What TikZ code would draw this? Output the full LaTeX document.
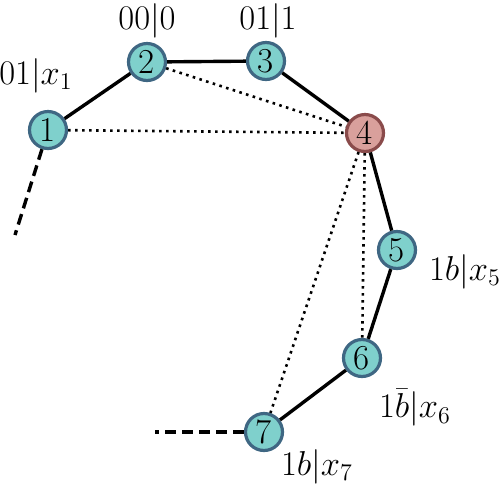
\documentclass[tikz,border=0pt]{standalone}
\usepackage{amsmath}
\begin{document}
\begin{tikzpicture}[x=0.5pt,y=-0.5pt,
  vtx/.style={circle,draw=vborder,fill=vfill,line width=1.6pt,minimum size=18.5pt,inner sep=0pt,font=\fontsize{17.5}{19}\selectfont},
  hot/.style={vtx,draw=hborder,fill=hfill},
  edge/.style={line width=1.7pt,black},
  dots/.style={line width=1.3pt,dash pattern=on 1.3pt off 2.2pt,black},
  dsh/.style={line width=1.7pt,dash pattern=on 5.5pt off 3pt,black},
  lab/.style={font=\fontsize{18.5}{20}\selectfont,inner sep=0pt}]
\definecolor{vfill}{HTML}{7FD0CC}
\definecolor{vborder}{HTML}{3F6783}
\definecolor{hfill}{HTML}{D9A09C}
\definecolor{hborder}{HTML}{8A4B4B}
\useasboundingbox (0,0) rectangle (499,500);
\coordinate (e1) at (15,235);
\coordinate (e7) at (155,432);
\node[vtx] (n1) at (48,130) {1};
\node[vtx] (n2) at (147,62) {2};
\node[vtx] (n3) at (266,61) {3};
\node[hot] (n4) at (365,133) {4};
\node[vtx] (n5) at (397,250) {5};
\node[vtx] (n6) at (362,358) {6};
\node[vtx] (n7) at (264,432) {7};
\draw[dots] (n1) -- (n4);
\draw[dots] (n2) -- (n4);
\draw[dots] (n4) -- (n6);
\draw[dots] (n4) -- (n7);
\draw[edge] (n1) -- (n2);
\draw[edge] (n2) -- (n3);
\draw[edge] (n3) -- (n4);
\draw[edge] (n4) -- (n5);
\draw[edge] (n5) -- (n6);
\draw[edge] (n6) -- (n7);
\draw[dsh] (n1) -- (e1);
\draw[dsh] (n7) -- (e7);
\node[lab] (l1) at (36,76) {$01|x_1$};
\node[lab] (l2) at (147,21) {$00|0$};
\node[lab] (l3) at (268,21) {$01|1$};
\node[lab] (l5) at (465,272) {$1b|x_5$};
\node[lab] (l6) at (415,408) {$1\bar{b}|x_6$};
\node[lab] (l7) at (317,467) {$1b|x_7$};
\end{tikzpicture}
\end{document}
